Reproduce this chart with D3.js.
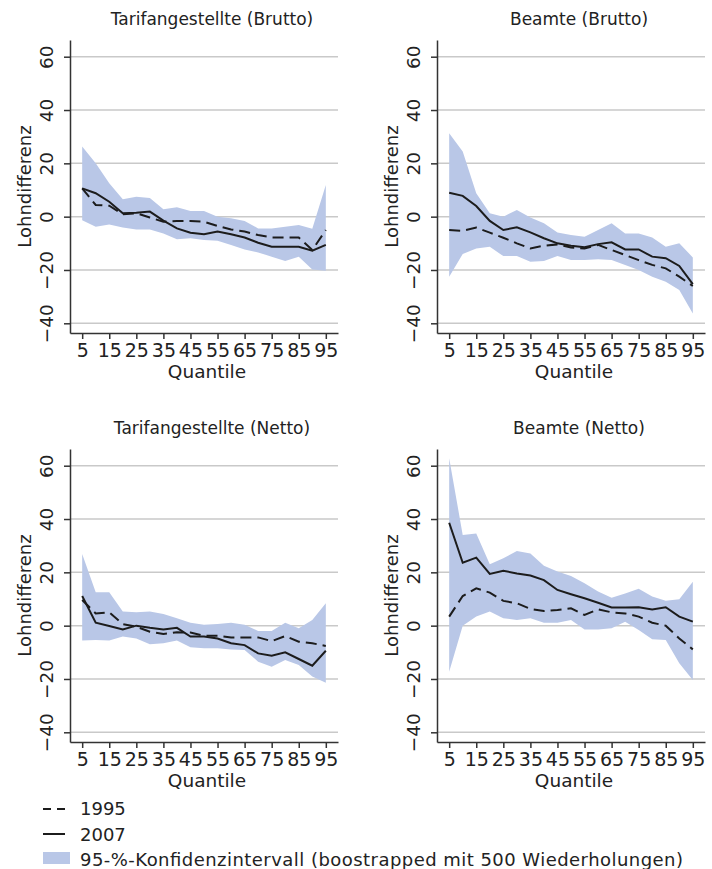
<!DOCTYPE html>
<html lang="de">
<head>
<meta charset="UTF-8">
<title>Lohndifferenz nach Quantilen</title>
<script src="https://d3js.org/d3.v7.min.js"></script>
<style>
  body { margin: 0; background: #fff; }
  svg text { font-family: "DejaVu Sans", "Noto Sans", sans-serif; fill: #222; }
</style>
</head>
<body>
<svg id="chart" width="712" height="869"></svg>
<script>
// Quantile (x)
const quantiles = [5,10,15,20,25,30,35,40,45,50,55,60,65,70,75,80,85,90,95];
const xTicks = [5,15,25,35,45,55,65,75,85,95];
const yTicks = [-40,-20,0,20,40,60];

// Tarifangestellte (Brutto)
const tarifBrutto1995 = [10.6,4.4,4.1,0.9,1.3,-0.3,-1.9,-1.6,-1.6,-1.9,-3.5,-4.8,-5.6,-6.9,-7.8,-7.8,-7.8,-12.5,-5.0];
const tarifBrutto2007 = [10.6,8.8,5.6,1.3,1.5,1.9,-1.5,-4.4,-6.0,-6.6,-5.6,-6.6,-7.8,-9.8,-11.3,-11.3,-11.3,-12.8,-10.6];
const tarifBruttoLo   = [-1.3,-3.8,-2.9,-4.1,-4.8,-4.8,-6.3,-8.5,-8.1,-8.8,-9.0,-10.6,-12.3,-13.4,-15.0,-16.6,-15.0,-19.8,-20.3];
const tarifBruttoHi   = [26.3,20.0,12.5,6.5,7.5,7.0,2.8,3.5,2.1,2.1,0.0,-0.6,-1.6,-4.4,-4.4,-3.8,-3.1,-4.5,11.9];

// Beamte (Brutto)
const beamteBrutto1995 = [-5.0,-5.3,-4.1,-6.0,-7.9,-10.0,-11.9,-10.9,-10.4,-11.6,-11.9,-10.6,-12.5,-14.4,-16.3,-18.1,-19.4,-22.5,-26.0];
const beamteBrutto2007 = [9.0,7.8,4.0,-1.6,-5.0,-4.0,-5.9,-8.1,-10.0,-10.9,-11.5,-10.3,-9.6,-12.3,-12.3,-15.0,-15.6,-18.5,-25.3];
const beamteBruttoLo   = [-22.5,-14.0,-11.9,-11.3,-14.8,-14.8,-16.9,-16.6,-14.8,-16.3,-16.3,-16.0,-16.3,-18.1,-20.0,-22.5,-24.4,-27.5,-36.3];
const beamteBruttoHi   = [31.3,24.4,8.8,1.3,0.0,2.5,-0.3,-2.5,-5.9,-6.9,-7.5,-5.0,-2.5,-6.3,-6.3,-7.8,-11.3,-10.0,-15.3];

// Tarifangestellte (Netto)
const tarifNetto1995 = [9.6,4.6,5.0,0.6,-0.4,-2.3,-3.1,-2.5,-2.6,-3.8,-3.8,-4.4,-4.4,-4.4,-5.8,-3.9,-6.0,-6.6,-7.6];
const tarifNetto2007 = [11.1,1.1,-0.1,-1.4,0.0,-0.8,-1.4,-0.8,-4.1,-4.1,-4.8,-6.6,-7.3,-10.4,-11.3,-10.0,-12.5,-15.0,-9.4];
const tarifNettoLo   = [-5.6,-5.4,-5.6,-4.1,-4.8,-7.0,-6.6,-5.6,-8.1,-8.5,-8.5,-8.9,-9.1,-13.5,-15.4,-12.9,-14.8,-19.1,-21.4];
const tarifNettoHi   = [26.9,12.5,12.5,5.3,5.0,5.3,4.4,2.8,1.1,0.3,0.6,1.1,0.3,-2.0,-2.0,1.1,-1.0,2.1,8.4];

// Beamte (Netto)
const beamteNetto1995 = [3.4,11.1,14.0,12.4,9.3,8.4,6.3,5.5,5.9,6.5,4.0,6.1,5.0,4.6,3.4,1.1,0.0,-4.8,-8.9];
const beamteNetto2007 = [38.6,23.6,25.5,19.4,20.6,19.6,18.8,17.1,13.4,11.8,10.3,8.6,6.8,6.8,6.9,6.1,6.9,3.4,1.5];
const beamteNettoLo   = [-17.3,0.0,3.4,5.3,2.8,2.1,2.8,1.1,1.1,2.1,-1.4,-1.4,-1.0,1.5,-1.6,-5.1,-5.4,-14.1,-20.4];
const beamteNettoHi   = [62.8,34.0,34.6,23.0,25.3,28.0,27.1,22.5,20.3,18.6,15.9,12.8,10.5,12.1,13.8,10.9,9.3,9.9,16.5];

const panelTitles = ["Tarifangestellte (Brutto)", "Beamte (Brutto)", "Tarifangestellte (Netto)", "Beamte (Netto)"];
const legendLabels = ["1995", "2007", "95-%-Konfidenzintervall (boostrapped mit 500 Wiederholungen)"];

const panels = [
  { title: panelTitles[0], v1995: tarifBrutto1995, v2007: tarifBrutto2007, lo: tarifBruttoLo, hi: tarifBruttoHi, dx: 0,   dy: 0 },
  { title: panelTitles[1], v1995: beamteBrutto1995, v2007: beamteBrutto2007, lo: beamteBruttoLo, hi: beamteBruttoHi, dx: 367, dy: 0 },
  { title: panelTitles[2], v1995: tarifNetto1995, v2007: tarifNetto2007, lo: tarifNettoLo, hi: tarifNettoHi, dx: 0,   dy: 409 },
  { title: panelTitles[3], v1995: beamteNetto1995, v2007: beamteNetto2007, lo: beamteNettoLo, hi: beamteNettoHi, dx: 367, dy: 409 }
];

const ciColor = "#b9c7e7";
const lineColor = "#1c1c1c";

const svg = d3.select("#chart");

// Plot-Bereich eines Panels (relativ zum Panel-Ursprung)
const plotLeft = 70, plotRight = 338, plotTop = 40, plotBottom = 333;

const x = d3.scaleLinear().domain([0.5, 99.5]).range([plotLeft, plotRight]);
const y = d3.scaleLinear().domain([-40, 60]).range([323.3, 56.7]);
const yAx = d3.scaleLinear().domain([y.invert(plotBottom), y.invert(plotTop)]).range([plotBottom, plotTop]);

panels.forEach(p => {
  const g = svg.append("g").attr("transform", `translate(${p.dx},${p.dy})`);
  const rows = quantiles.map((q, i) => ({ q, a: p.v1995[i], b: p.v2007[i], lo: p.lo[i], hi: p.hi[i] }));

  // Gitterlinien
  g.append("g").selectAll("line")
    .data(yTicks)
    .join("line")
    .attr("x1", plotLeft).attr("x2", plotRight)
    .attr("y1", d => y(d)).attr("y2", d => y(d))
    .attr("stroke", "#c9c9c9").attr("stroke-width", 1.5);

  // Konfidenzband
  const area = d3.area()
    .x(d => x(d.q))
    .y0(d => y(d.lo))
    .y1(d => y(d.hi));
  g.append("path").datum(rows)
    .attr("fill", ciColor)
    .attr("d", area);

  const line1995 = d3.line().x(d => x(d.q)).y(d => y(d.a));
  const line2007 = d3.line().x(d => x(d.q)).y(d => y(d.b));

  g.append("path").datum(rows)
    .attr("fill", "none").attr("stroke", lineColor).attr("stroke-width", 2)
    .attr("stroke-dasharray", "11,6")
    .attr("d", line1995);

  g.append("path").datum(rows)
    .attr("fill", "none").attr("stroke", lineColor).attr("stroke-width", 2)
    .attr("d", line2007);

  // y-Achse
  const yAxis = g.append("g")
    .attr("transform", `translate(${plotLeft},0)`)
    .call(d3.axisLeft(yAx).tickValues(yTicks).tickSize(6).tickSizeOuter(0));
  yAxis.select(".domain").attr("stroke", "#333").attr("stroke-width", 1.5);
  yAxis.selectAll(".tick line").attr("stroke", "#333").attr("stroke-width", 1.5);
  yAxis.selectAll(".tick text")
    .attr("transform", "rotate(-90)")
    .attr("x", 0).attr("y", -17).attr("dy", 0)
    .attr("text-anchor", "middle")
    .style("font-size", "18.5px");

  // x-Achse
  const xAxis = g.append("g")
    .attr("transform", `translate(0,${plotBottom})`)
    .call(d3.axisBottom(x).tickValues(xTicks).tickSize(6).tickSizeOuter(0).tickPadding(5));
  xAxis.select(".domain").attr("stroke", "#333").attr("stroke-width", 1.5);
  xAxis.selectAll(".tick line").attr("stroke", "#333").attr("stroke-width", 1.5);
  xAxis.selectAll(".tick text").style("font-size", "19px");

  // Beschriftungen
  g.append("text")
    .attr("x", (plotLeft + plotRight) / 2 + 8).attr("y", 25)
    .attr("text-anchor", "middle")
    .style("font-size", "17px")
    .text(p.title);

  g.append("text")
    .attr("x", (plotLeft + plotRight) / 2 + 3).attr("y", 378)
    .attr("text-anchor", "middle")
    .style("font-size", "18.5px")
    .text("Quantile");

  g.append("text")
    .attr("transform", `translate(31,${(plotTop + plotBottom) / 2}) rotate(-90)`)
    .attr("text-anchor", "middle")
    .style("font-size", "18px")
    .text("Lohndifferenz");
});

// Legende
const legend = svg.append("g").attr("transform", "translate(43,0)");
legend.append("line")
  .attr("x1", 0).attr("x2", 22).attr("y1", 809).attr("y2", 809)
  .attr("stroke", lineColor).attr("stroke-width", 2).attr("stroke-dasharray", "8,6");
legend.append("line")
  .attr("x1", 0).attr("x2", 22).attr("y1", 834).attr("y2", 834)
  .attr("stroke", lineColor).attr("stroke-width", 2);
legend.append("rect")
  .attr("x", 0).attr("y", 852).attr("width", 27).attr("height", 12)
  .attr("fill", ciColor);
legendLabels.forEach((t, i) => {
  const txt = legend.append("text")
    .attr("x", 37).attr("y", 815 + i * 25.5)
    .style("font-size", "18px")
    .text(t);
  if (i === 2) txt.attr("textLength", 603).attr("lengthAdjust", "spacing");
});
</script>
</body>
</html>
